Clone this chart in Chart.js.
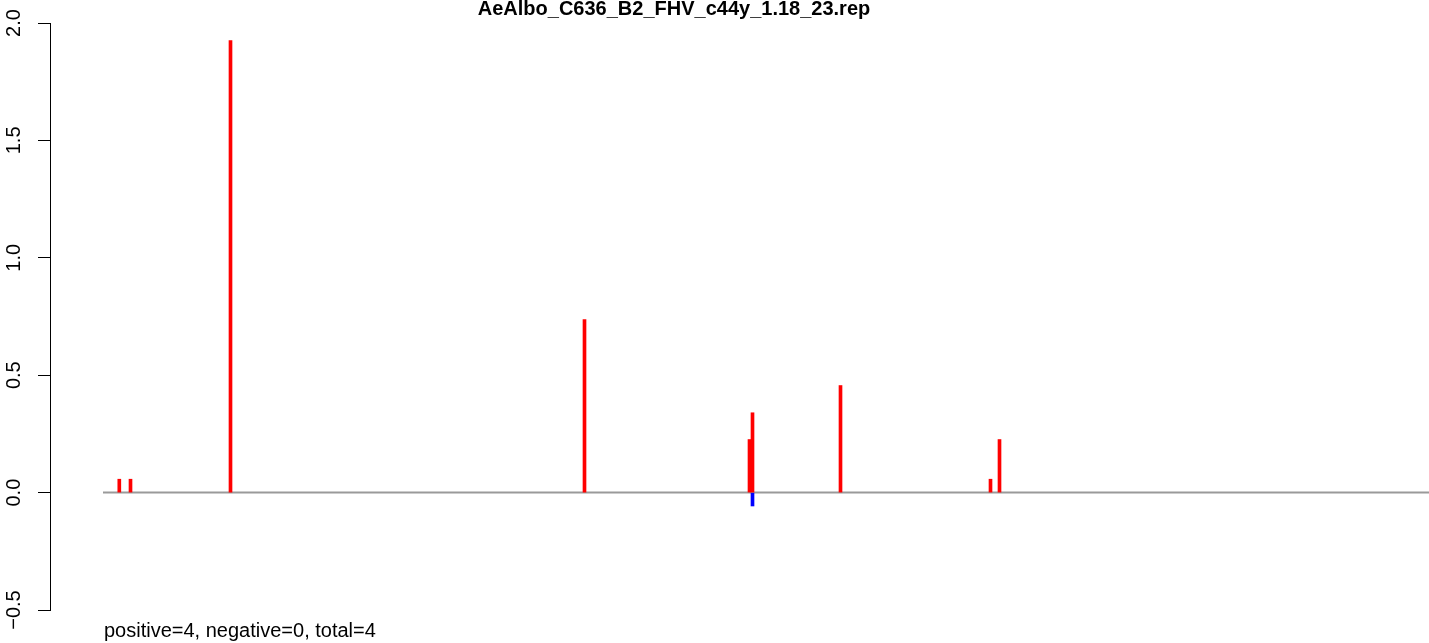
<!DOCTYPE html>
<html>
<head>
<meta charset="utf-8">
<script src="https://cdn.jsdelivr.net/npm/chart.js@4.4.1/dist/chart.umd.min.js"></script>
<style>
  html, body { margin: 0; padding: 0; background: #fff; }
  #wrap { width: 1429px; height: 643px; }
</style>
</head>
<body>
<div id="wrap"><canvas id="myChart" width="1429" height="643"></canvas></div>
<script>
// Chart title and summary line
var chartTitle = 'AeAlbo_C636_B2_FHV_c44y_1.18_23.rep';
var summaryText = 'positive=4, negative=0, total=4';

// Positions along the reference (arbitrary units) and values
var positivePositions = [16.3, 27.5, 127.5, 481.5, 646.5, 649.5, 737.5, 887.5, 896.5];
var positiveValues = [0.057, 0.057, 1.925, 0.737, 0.226, 0.34, 0.456, 0.057, 0.226];
var negativePositions = [649.5];
var negativeValues = [-0.057];

// Baseline extent and axis range
var baselineRange = [0, 1326];
var xRange = [-53, 1326];
var yTickValues = [-0.5, 0, 0.5, 1.0, 1.5, 2.0];
var yTickLabels = ['\u22120.5', '0.0', '0.5', '1.0', '1.5', '2.0'];

function toPoints(xs, ys) {
    var pts = [];
    for (var i = 0; i < xs.length; i++) {
        pts.push({ x: xs[i], y: ys[i] });
    }
    return pts;
}

// Draws the title and the bottom summary line
var textPlugin = {
    id: 'textPlugin',
    afterDraw: function (chart) {
        var ctx = chart.ctx;
        ctx.save();
        ctx.fillStyle = '#000';
        ctx.textBaseline = 'alphabetic';
        ctx.font = 'bold 20px "Liberation Sans", Arial, sans-serif';
        ctx.textAlign = 'center';
        ctx.fillText(chartTitle, 674, 15);
        ctx.font = '20px "Liberation Sans", Arial, sans-serif';
        ctx.textAlign = 'left';
        ctx.fillText(summaryText, 104, 637);
        ctx.restore();
    }
};

var ctx = document.getElementById('myChart').getContext('2d');
var myChart = new Chart(ctx, {
    type: 'bar',
    data: {
        datasets: [{
            label: 'positive',
            data: toPoints(positivePositions, positiveValues),
            backgroundColor: '#ff0000',
            barThickness: 3,
            grouped: false,
            order: 0
        }, {
            label: 'negative',
            data: toPoints(negativePositions, negativeValues),
            backgroundColor: '#0000ff',
            barThickness: 3,
            grouped: false,
            order: 0
        }, {
            type: 'line',
            label: 'baseline',
            data: toPoints(baselineRange, [0, 0]),
            borderColor: '#9a9a9a',
            borderWidth: 2,
            pointRadius: 0,
            order: 5
        }]
    },
    options: {
        responsive: false,
        animation: false,
        layout: { padding: { top: 23, bottom: 33, left: 0, right: 0 } },
        plugins: {
            legend: { display: false },
            tooltip: { enabled: false },
            title: { display: false }
        },
        scales: {
            x: {
                type: 'linear',
                display: false,
                offset: false,
                min: xRange[0],
                max: xRange[1]
            },
            y: {
                min: -0.5,
                max: 2.0,
                afterFit: function (scale) { scale.width = 50; },
                afterBuildTicks: function (scale) {
                    scale.ticks = yTickValues.map(function (v) { return { value: v }; });
                },
                ticks: {
                    minRotation: 90,
                    maxRotation: 90,
                    crossAlign: 'center',
                    padding: 4,
                    color: '#000',
                    font: { family: '"Liberation Sans", Arial, sans-serif', size: 20 },
                    callback: function (value) {
                        var i = yTickValues.indexOf(value);
                        return i >= 0 ? yTickLabels[i] : '';
                    }
                },
                grid: {
                    drawOnChartArea: false,
                    tickLength: 12,
                    color: '#000',
                    lineWidth: 1
                },
                border: { display: true, color: '#000', width: 1 }
            }
        }
    },
    plugins: [textPlugin]
});
</script>
</body>
</html>
